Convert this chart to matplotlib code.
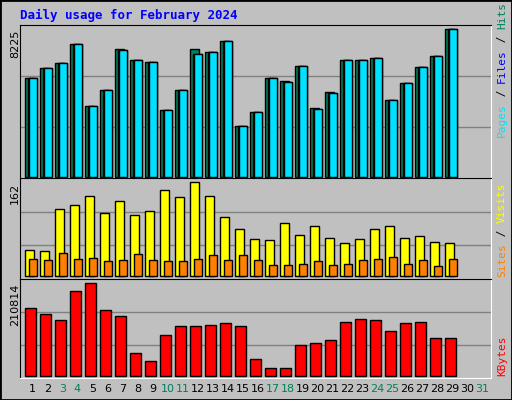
import numpy as np
import matplotlib.pyplot as plt
from matplotlib.patches import Rectangle

days = np.arange(1, 30)
hits = [5490, 6048, 6346, 7407, 3927, 4839, 7109, 6495, 6402, 3703, 4839, 7109, 6942, 7556, 2810,
        3592, 5490, 5322, 6160, 3815, 4708, 6495, 6495, 6607, 4280, 5211, 6104, 6718, 8225]
files = [5490, 6048, 6330, 7407, 3927, 4839, 7053, 6495, 6402, 3703, 4839, 6830, 6942, 7556, 2810,
         3592, 5490, 5267, 6160, 3759, 4653, 6495, 6495, 6607, 4280, 5211, 6104, 6718, 8225]
pages = files
visits = [45, 42, 116, 122, 139, 108, 130, 106, 113, 148, 136, 162, 139, 101, 81,
          64, 62, 92, 71, 87, 65, 57, 64, 81, 87, 65, 69, 58, 57]
sites = [29, 27, 39, 29, 30, 25, 27, 37, 27, 25, 25, 29, 36, 27, 36,
         27, 18, 18, 20, 25, 18, 20, 27, 29, 32, 20, 27, 16, 29]
kbytes = [155420, 141570, 127720, 192350, 210814, 150800, 136950, 51550, 33080, 93100,
          113870, 113870, 116180, 120800, 113870, 37700, 16930, 16930, 70020, 74630,
          81560, 123100, 130030, 127720, 102330, 120800, 123100, 86170, 86170]
weekend = [3, 4, 10, 11, 17, 18, 24, 25, 31]

gray = '#C0C0C0'
green = '#00805C'
mono = 'DejaVu Sans Mono'

fig = plt.figure(figsize=(5.12, 4.0), dpi=100, facecolor=gray)
W, H = 512, 400
fig.patches.append(Rectangle((0, 0), 1, 1, transform=fig.transFigure, fill=False,
                             edgecolor='black', lw=2))

def mkax(y0, y1):
    ax = fig.add_axes([20 / W, 1 - y1 / H, 471 / W, (y1 - y0) / H])
    ax.set_facecolor(gray)
    ax.set_xlim(0.27, 31.67)
    ax.set_xticks([])
    ax.set_yticks([])
    for s in ax.spines.values():
        s.set_color('black')
    ax.spines['bottom'].set_color('white')
    ax.spines['right'].set_color('white')
    for f in (1 / 3, 2 / 3):
        ax.plot([0, 1], [f, f], transform=ax.transAxes, color='#808080', lw=1, zorder=0)
    return ax

def bars(ax, vals, x0, x1, color):
    ax.bar(days + (x0 + x1) / 2, vals, width=x1 - x0, color=color,
           edgecolor='black', linewidth=1, zorder=2)

ax1 = mkax(25, 178)
ax1.set_ylim(-73, 8465)
bars(ax1, hits, -0.4, 0.2, green)
bars(ax1, pages, -0.2, 0.4, '#0000FF')
bars(ax1, files, -0.1, 0.4, '#00E0FF')

ax2 = mkax(178, 279)
ax2.set_ylim(-5.8, 169.5)
bars(ax2, visits, -0.4, 0.2, '#FFFF00')
bars(ax2, sites, -0.13, 0.4, '#FF8000')

ax3 = mkax(279, 378)
ax3.set_ylim(-5300, 220730)
bars(ax3, kbytes, -0.4, 0.33, '#FF0000')

for d in range(1, 32):
    ax3.text(d + 0.1, -0.06, str(d), transform=ax3.get_xaxis_transform(), ha='center', va='top',
             fontsize=8, color=green if d in weekend else 'black')

fig.text(20 / W, 1 - 15 / H, 'Daily usage for February 2024', color='#0000FF',
         fontsize=9, fontweight='bold', family=mono, va='center')

for y, lab in ((30, '8225'), (183, '162'), (284, '210814')):
    fig.text(10 / W, 1 - y / H, lab, rotation=90, ha='left', va='top', fontsize=8)

def side(y_bottom, parts):
    y = 1 - y_bottom / H
    for txt, col in parts:
        t = fig.text(497 / W, y, txt, rotation=90, color=col, fontsize=8,
                     family=mono, ha='left', va='bottom')
        fig.canvas.draw()
        bb = t.get_window_extent()
        y += bb.height / fig.bbox.height

side(137, [('Pages', '#00E0FF'), (' / ', 'black'), ('Files', '#0000FF'),
           (' / ', 'black'), ('Hits', green)])
side(277, [('Sites', '#FF8000'), (' / ', 'black'), ('Visits', '#FFFF00')])
side(376, [('KBytes', '#FF0000')])

fig.savefig('out.png', dpi=100, facecolor=gray)
